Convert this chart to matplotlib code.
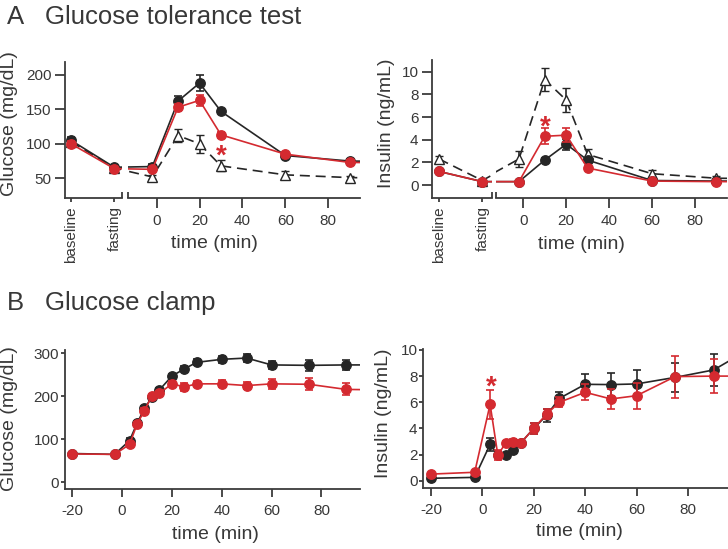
"""Glucose tolerance test (A) and glucose clamp (B): glucose and insulin time courses."""
import numpy as np
import matplotlib
matplotlib.use("Agg")
import matplotlib.pyplot as plt

plt.rcParams["font.family"] = ["Liberation Sans", "DejaVu Sans"]
plt.rcParams["axes.unicode_minus"] = False

BLACK = "#262626"
RED = "#d42a30"
INK = "#383838"
SPINE = "#3c3c3c"

# ---- A: glucose tolerance test ------------------------------------------------
pre_labels = ["baseline", "fasting"]
# 120 min is outside the visible window; it only carries the line to the edge
gtt_time = [-2, 10, 20, 30, 60, 90, 120]

gtt_glu_black_pre = [105, 66]
gtt_glu_red_pre = [100, 64]
gtt_glu_tri_pre = [103, 65]
gtt_glu_black_pre_err = [5, 3]
gtt_glu_red_pre_err = [4, 3]
gtt_glu_tri_pre_err = [4, 3]

gtt_glu_black = [67, 162, 188, 147, 83, 75, 74]
gtt_glu_red = [63, 153, 163, 113, 85, 73, 72]
gtt_glu_tri = [52, 112, 100, 68, 55, 51, 50]
gtt_glu_black_err = [3, 8, 12, 3, 3, 3, 0]
gtt_glu_red_err = [3, 5, 8, 4, 3, 3, 0]
gtt_glu_tri_err = [3, 10, 13, 8, 5, 3, 0]

gtt_ins_black_pre = [1.2, 0.3]
gtt_ins_red_pre = [1.2, 0.3]
gtt_ins_tri_pre = [2.3, 0.4]
gtt_ins_black_pre_err = [0.2, 0.1]
gtt_ins_red_pre_err = [0.2, 0.1]
gtt_ins_tri_pre_err = [0.3, 0.1]

gtt_ins_black = [0.3, 2.2, 3.6, 2.2, 0.4, 0.35, 0.35]
gtt_ins_red = [0.3, 4.3, 4.4, 1.5, 0.35, 0.3, 0.3]
gtt_ins_tri = [2.3, 9.3, 7.5, 2.7, 1.0, 0.6, 0.55]
gtt_ins_black_err = [0.1, 0.2, 0.5, 0.2, 0.1, 0.1, 0]
gtt_ins_red_err = [0.1, 0.7, 0.6, 0.2, 0.1, 0.1, 0]
gtt_ins_tri_err = [0.7, 1.0, 1.1, 0.5, 0.3, 0.2, 0]

# ---- B: glucose clamp -----------------------------------------------------------
clamp_time = [-20, -3, 3, 6, 9, 12, 15, 20, 25, 30, 40, 50, 60, 75, 90, 120]

clamp_glu_black = [67, 65, 97, 137, 172, 198, 215, 247, 264, 279, 286, 289, 273, 272, 273, 273]
clamp_glu_red = [66, 65, 88, 135, 167, 201, 207, 229, 222, 229, 229, 225, 229, 228, 216, 214]
clamp_glu_black_err = [3, 3, 5, 5, 5, 5, 5, 5, 6, 7, 8, 10, 10, 12, 12, 0]
clamp_glu_red_err = [3, 3, 5, 5, 5, 5, 5, 6, 10, 6, 8, 8, 12, 14, 14, 0]

clamp_ins_black = [0.18, 0.25, 2.78, 2.0, 1.96, 2.35, 2.9, 4.0, 5.0, 6.3, 7.37, 7.35, 7.4, 7.9, 8.47, 11.9]
clamp_ins_red = [0.5, 0.64, 5.84, 1.96, 2.86, 2.98, 2.9, 4.0, 5.1, 6.0, 6.76, 6.25, 6.5, 7.96, 8.0, 8.0]
clamp_ins_black_err = [0.05, 0.05, 0.5, 0.2, 0.1, 0.2, 0.2, 0.4, 0.5, 0.5, 0.8, 0.85, 1.1, 1.1, 1.2, 0]
clamp_ins_red_err = [0.05, 0.05, 1.1, 0.4, 0.2, 0.2, 0.2, 0.4, 0.4, 0.4, 0.6, 0.75, 1.0, 1.6, 1.3, 0]

# significance stars (x, y) in data units
star_gtt_glu = (30.3, 82)
star_gtt_ins = (10.4, 5.1)
star_clamp_ins = (3.3, 7.1)

# where "fasting" sits on the time axis / where t=-2 sits on the category axis
FAST_T = -20
NEXT_CAT = 1.9

STYLE_BLACK = dict(color=BLACK, marker="o", ms=6.8, mfc=BLACK, mec=BLACK, lw=1.2,
                   elinewidth=1.2, capsize=2.8, capthick=1.2, zorder=4)
STYLE_RED = dict(color=RED, marker="o", ms=6.8, mfc=RED, mec=RED, lw=1.2,
                 elinewidth=1.2, capsize=2.8, capthick=1.2, zorder=5)
STYLE_TRI = dict(color=BLACK, marker="^", ms=7.5, mfc="white", mec=BLACK, mew=1.0, lw=1.2,
                 ls=(0, (6, 3.5)), elinewidth=1.2, capsize=2.8, capthick=1.2, zorder=3)


def px(x0, y0, x1, y1, W=728, H=549):
    """Axes rectangle from pixel box (left, top, right, bottom)."""
    return [x0 / W, 1 - y1 / H, (x1 - x0) / W, (y1 - y0) / H]


def style_axis(ax, ylen, xlen, xpad, ypad):
    for s in ("top", "right"):
        ax.spines[s].set_visible(False)
    for s in ("left", "bottom"):
        ax.spines[s].set_linewidth(1.3)
        ax.spines[s].set_color(SPINE)
    ax.tick_params(axis="both", direction="out", colors=SPINE, labelcolor=INK,
                   width=1.3, labelsize=11)
    ax.tick_params(axis="y", length=ylen, pad=ypad)
    ax.tick_params(axis="x", length=xlen, pad=xpad)


def break_mark(ax, side):
    xa = 1.0 if side == "right" else 0.0
    ax.plot([xa, xa], [0, 0.045], transform=ax.transAxes, color=SPINE, lw=1.3,
            clip_on=False, solid_capstyle="butt")


def star(ax, xy):
    ax.text(xy[0], xy[1], "*", color=RED, fontsize=20, fontweight="bold",
            ha="center", va="center", zorder=6)


def gtt_pair(fig, box_pre, box_time, pre, main, ylim, yticks, ylabel, ylab_x, xpre, xtime):
    ax_pre = fig.add_axes(box_pre)
    ax_t = fig.add_axes(box_time)
    for (ypre, epre), (y, e), st in zip(pre, main, (STYLE_TRI, STYLE_BLACK, STYLE_RED)):
        # category axis: baseline, fasting, then the line heads to t=-2
        ax_pre.errorbar([0, 1, NEXT_CAT], list(ypre) + [y[0]], yerr=list(epre) + [0], **st)
        ax_t.errorbar([FAST_T] + gtt_time, [ypre[1]] + list(y), yerr=[0] + list(e), **st)

    ax_pre.set_xlim(*xpre)
    ax_pre.set_ylim(*ylim)
    ax_pre.set_yticks(yticks)
    ax_pre.set_xticks([0, 1])
    ax_pre.set_xticklabels(pre_labels, rotation=90, va="top", ha="center")
    style_axis(ax_pre, 7, 3.2, 2.5, 2.5)
    ax_pre.set_ylabel(ylabel, fontsize=14, color=INK)
    ax_pre.yaxis.set_label_coords(*ylab_x)
    break_mark(ax_pre, "right")

    ax_t.set_xlim(*xtime)
    ax_t.set_ylim(*ylim)
    ax_t.set_xticks([0, 20, 40, 60, 80])
    ax_t.set_yticks([])
    style_axis(ax_t, 7, 7, 4.5, 2)
    ax_t.spines["left"].set_visible(False)
    ax_t.set_xlabel("time (min)", fontsize=14, color=INK)
    ax_t.xaxis.set_label_coords(0.37, -0.27)
    break_mark(ax_t, "left")
    return ax_pre, ax_t


fig = plt.figure(figsize=(7.28, 5.49), dpi=100)

_, ax_a1 = gtt_pair(
    fig, px(65, 61.7, 121.7, 198.3), px(128.3, 61.7, 360, 198.3),
    [(gtt_glu_tri_pre, gtt_glu_tri_pre_err), (gtt_glu_black_pre, gtt_glu_black_pre_err),
     (gtt_glu_red_pre, gtt_glu_red_pre_err)],
    [(gtt_glu_tri, gtt_glu_tri_err), (gtt_glu_black, gtt_glu_black_err),
     (gtt_glu_red, gtt_glu_red_err)],
    (21, 219), [50, 100, 150, 200], "Glucose (mg/dL)", (-0.83, 0.55),
    (-0.139, 1.171), (-13.2, 94.8))
star(ax_a1, star_gtt_glu)

_, ax_a2 = gtt_pair(
    fig, px(431.7, 60, 491.7, 198.3), px(496, 60, 726.7, 198.3),
    [(gtt_ins_tri_pre, gtt_ins_tri_pre_err), (gtt_ins_black_pre, gtt_ins_black_pre_err),
     (gtt_ins_red_pre, gtt_ins_red_pre_err)],
    [(gtt_ins_tri, gtt_ins_tri_err), (gtt_ins_black, gtt_ins_black_err),
     (gtt_ins_red, gtt_ins_red_err)],
    (-1.17, 11.03), [0, 2, 4, 6, 8, 10], "Insulin (ng/mL)", (-0.61, 0.54),
    (-0.169, 1.217), (-12.7, 94.8))
star(ax_a2, star_gtt_ins)

# ---- B panels ----
ax_b1 = fig.add_axes(px(65, 350, 360, 489))
ax_b1.errorbar(clamp_time, clamp_glu_black, yerr=clamp_glu_black_err, **STYLE_BLACK)
ax_b1.errorbar(clamp_time, clamp_glu_red, yerr=clamp_glu_red_err, **STYLE_RED)
ax_b1.set_xlim(-22.9, 95.5)
ax_b1.set_ylim(-15.5, 307.7)
ax_b1.set_yticks([0, 100, 200, 300])
ax_b1.set_xticks([-20, 0, 20, 40, 60, 80])
style_axis(ax_b1, 3.2, 5.5, 5.5, 1)
ax_b1.set_ylabel("Glucose (mg/dL)", fontsize=14, color=INK)
ax_b1.yaxis.set_label_coords(-0.158, 0.51)
ax_b1.set_xlabel("time (min)", fontsize=14, color=INK)
ax_b1.xaxis.set_label_coords(0.511, -0.265)

ax_b2 = fig.add_axes(px(423.3, 349.3, 728.3, 487.7))
ax_b2.errorbar(clamp_time, clamp_ins_black, yerr=clamp_ins_black_err, **STYLE_BLACK)
ax_b2.errorbar(clamp_time, clamp_ins_red, yerr=clamp_ins_red_err, **STYLE_RED)
ax_b2.set_xlim(-23.0, 95.7)
ax_b2.set_ylim(-0.54, 10.05)
ax_b2.set_yticks([0, 2, 4, 6, 8, 10])
ax_b2.set_xticks([-20, 0, 20, 40, 60, 80])
style_axis(ax_b2, 3.2, 5.5, 5.5, 1)
ax_b2.set_ylabel("Insulin (ng/mL)", fontsize=14, color=INK)
ax_b2.yaxis.set_label_coords(-0.104, 0.54)
ax_b2.set_xlabel("time (min)", fontsize=14, color=INK)
ax_b2.xaxis.set_label_coords(0.511, -0.255)
star(ax_b2, star_clamp_ins)

# panel titles
fig.text(7 / 728, 1 - 24 / 549, "A", fontsize=18.5, color=INK, va="baseline")
fig.text(45 / 728, 1 - 24 / 549, "Glucose tolerance test", fontsize=18.5, color=INK, va="baseline")
fig.text(7 / 728, 1 - 310 / 549, "B", fontsize=18.5, color=INK, va="baseline")
fig.text(45 / 728, 1 - 310 / 549, "Glucose clamp", fontsize=18.5, color=INK, va="baseline")

fig.savefig("out.png", dpi=100)
